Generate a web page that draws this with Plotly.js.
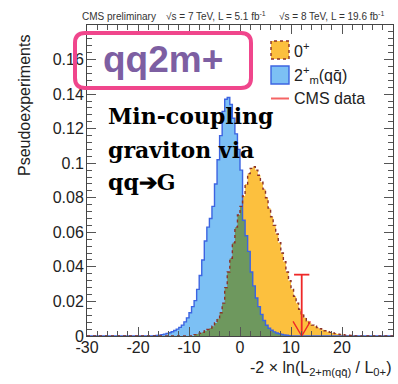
<!DOCTYPE html>
<html><head><meta charset="utf-8">
<script src="https://cdn.plot.ly/plotly-3.0.1.min.js"></script>
<style>html,body{margin:0;padding:0;background:#fff;}#c{width:398px;height:384px;}</style>
</head><body><div id="c"></div>
<script>
// ---- data ----
const binWidth = 0.5;
const axisMin = -30, axisMax = 30;
// 2+m(qq) pseudo-experiments, first bin starts at -17
const blueStart = -17;
const blueVals = [0.0002,0.0003,0.0005,0.0008,0.0011,0.0015,0.0019,0.0025,0.0032,0.0040,
  0.0050,0.0063,0.0082,0.0105,0.0135,0.017,0.0205,0.027,0.035,0.044,
  0.055,0.063,0.068,0.075,0.088,0.102,0.116,0.130,0.137,0.138,
  0.134,0.126,0.117,0.108,0.096,0.067,0.058,0.049,0.037,0.029,
  0.022,0.017,0.0125,0.009,0.0062,0.0045,0.0033,0.0024,0.0017,0.0013,
  0.0009,0.0006,0.0004,0.0002];
// 0+ pseudo-experiments, first bin starts at -9
const orangeStart = -9;
const orangeVals = [0.0008,0.0012,0.0016,0.0022,0.003,0.0038,0.0046,0.0056,0.0075,0.0100,
  0.0135,0.019,0.028,0.037,0.045,0.054,0.063,0.070,0.075,0.081,
  0.088,0.094,0.097,0.098,0.096,0.093,0.089,0.085,0.080,0.074,
  0.069,0.064,0.059,0.054,0.048,0.043,0.037,0.032,0.027,0.023,
  0.019,0.0155,0.0128,0.0106,0.0088,0.0074,0.0063,0.0056,0.0049,0.0042,
  0.0036,0.0030,0.0025,0.0021,0.0017,0.0014,0.0011,0.0009,0.0007,0.0005,
  0.0004,0.0003,0.0002];
// observed CMS data
const obsValue = 12.1;
const obsTop = 0.0355;
const xTicks = [-30,-20,-10,0,10,20,30];
const yTicks = [0,0.02,0.04,0.06,0.08,0.1,0.12,0.14,0.16];

// ---- build full histograms ----
const nBins = Math.round((axisMax-axisMin)/binWidth);
const edges = [];
for (let i=0;i<=nBins;i++) edges.push(axisMin + i*binWidth);
function fullHist(start, vals){
  const h = new Array(nBins).fill(0);
  const off = Math.round((start-axisMin)/binWidth);
  vals.forEach((v,i)=>{ h[off+i]=v; });
  return h;
}
const blue = fullHist(blueStart, blueVals);
const orange = fullHist(orangeStart, orangeVals);
const green = blue.map((v,i)=>Math.min(v, orange[i]));
const stepY = h => h.concat([h[h.length-1]]);

const cOrange = 'rgb(252,192,62)', cBlue = 'rgb(124,192,244)', cGreen = 'rgb(110,152,94)';
const cBlueLine = 'rgb(60,100,225)', cOrangeLine = 'rgb(140,50,40)', cRed = 'rgb(238,40,40)';

function fillTrace(h, color){
  return {x: edges, y: stepY(h), type:'scatter', mode:'lines', line:{shape:'hv', width:0, color:color},
    fill:'tozeroy', fillcolor: color, hoverinfo:'skip', showlegend:false};
}
function lineTrace(h, color, dash){
  return {x: edges, y: stepY(h), type:'scatter', mode:'lines', line:{shape:'hv', width:1.4, color:color, dash:dash},
    hoverinfo:'skip', showlegend:false};
}
const capHalf = 1.5, headHalf = 1.7, headH = 0.0085;
const traces = [
  fillTrace(orange, cOrange),
  fillTrace(blue, cBlue),
  fillTrace(green, cGreen),
  lineTrace(blue, cBlueLine, 'solid'),
  lineTrace(orange, cOrangeLine, 'dot'),
  {x:[obsValue, obsValue], y:[0, obsTop], type:'scatter', mode:'lines', line:{color:cRed, width:1.8}, showlegend:false},
  {x:[obsValue-capHalf, obsValue+capHalf], y:[obsTop, obsTop], type:'scatter', mode:'lines', line:{color:cRed, width:1.8}, showlegend:false},
  {x:[obsValue-headHalf, obsValue, obsValue+headHalf], y:[headH, 0, headH], type:'scatter', mode:'lines', line:{color:cRed, width:1.4}, showlegend:false}
];

// pixel -> paper helpers (plot area: x 87..393, y 25..336)
const L=87, R=5, T=25, B=48, W=398, H=384;
const pw = W-L-R, ph = H-T-B;
const px = p => (p-L)/pw;
const py = p => (H-B-p)/ph;

function roundRect(x0,y0,x1,y1,r){
  const rx=r/pw, ry=r/ph;
  const X0=px(x0), X1=px(x1), Y0=py(y1), Y1=py(y0);
  return `M${X0+rx},${Y0} L${X1-rx},${Y0} Q${X1},${Y0} ${X1},${Y0+ry} L${X1},${Y1-ry} Q${X1},${Y1} ${X1-rx},${Y1} L${X0+rx},${Y1} Q${X0},${Y1} ${X0},${Y1-ry} L${X0},${Y0+ry} Q${X0},${Y0} ${X0+rx},${Y0} Z`;
}

const sans = 'Liberation Sans, Arial, sans-serif';
const serif = 'DejaVu Serif, serif';
const annotations = [
  {text:'CMS preliminary', x:px(80), y:py(16), xref:'paper', yref:'paper', xanchor:'left', yanchor:'middle', showarrow:false, font:{family:sans, size:10, color:'#333'}},
  {text:'√s = 7 TeV, L = 5.1 fb<sup>-1</sup>', x:px(164), y:py(16), xref:'paper', yref:'paper', xanchor:'left', yanchor:'middle', showarrow:false, font:{family:sans, size:10, color:'#333'}},
  {text:'√s = 8 TeV, L = 19.6 fb<sup>-1</sup>', x:px(277), y:py(16), xref:'paper', yref:'paper', xanchor:'left', yanchor:'middle', showarrow:false, font:{family:sans, size:10, color:'#333'}},
  {text:'qq2m+', x:px(163), y:py(60), xref:'paper', yref:'paper', xanchor:'center', yanchor:'middle', showarrow:false, font:{family:sans, size:37, color:'rgb(125,95,162)', weight:'bold'}},
  {text:'<b>Min-coupling</b>', x:px(106), y:py(116), xref:'paper', yref:'paper', xanchor:'left', yanchor:'middle', showarrow:false, font:{family:serif, size:22, color:'#000'}},
  {text:'<b>graviton via</b>', x:px(106), y:py(150), xref:'paper', yref:'paper', xanchor:'left', yanchor:'middle', showarrow:false, font:{family:serif, size:22, color:'#000'}},
  {text:'<b>qq➔G</b>', x:px(106), y:py(182), xref:'paper', yref:'paper', xanchor:'left', yanchor:'middle', showarrow:false, font:{family:serif, size:22, color:'#000'}},
  {text:'0<sup>+</sup>', x:px(292), y:py(50), xref:'paper', yref:'paper', xanchor:'left', yanchor:'middle', showarrow:false, font:{family:sans, size:16, color:'#222'}},
  {text:'2<sup>+</sup><sub>m</sub>(qq̄)', x:px(292), y:py(75), xref:'paper', yref:'paper', xanchor:'left', yanchor:'middle', showarrow:false, font:{family:sans, size:16, color:'#222'}},
  {text:'CMS data', x:px(292), y:py(99), xref:'paper', yref:'paper', xanchor:'left', yanchor:'middle', showarrow:false, font:{family:sans, size:16, color:'#222'}},
  {text:'Pseudoexperiments', x:px(25), y:py(106), xref:'paper', yref:'paper', xanchor:'center', yanchor:'middle', textangle:-90, showarrow:false, font:{family:sans, size:16, color:'#222'}},
  {text:'-2 × ln(L<sub>2+m(qq̄)</sub> / L<sub>0+</sub>)', x:1.0, y:py(368), xref:'paper', yref:'paper', xanchor:'right', yanchor:'middle', showarrow:false, font:{family:sans, size:16, color:'#222'}}
];

const shapes = [
  {type:'path', path: roundRect(75,33,251,88,10), xref:'paper', yref:'paper', line:{color:'rgb(240,70,140)', width:4}, fillcolor:'rgba(0,0,0,0)'},
  {type:'rect', xref:'paper', yref:'paper', x0:px(271), x1:px(289), y0:py(59), y1:py(41), fillcolor:cOrange, line:{color:cOrangeLine, width:1.4, dash:'dot'}},
  {type:'rect', xref:'paper', yref:'paper', x0:px(271), x1:px(289), y0:py(84), y1:py(66), fillcolor:cBlue, line:{color:cBlueLine, width:1.4}},
  {type:'line', xref:'paper', yref:'paper', x0:px(271), x1:px(289), y0:py(98.5), y1:py(98.5), line:{color:'rgb(245,100,100)', width:2}}
];

const axisCommon = {showgrid:false, zeroline:false, showline:true, linecolor:'#444', linewidth:1, ticks:'inside', mirror:'allticks', tickcolor:'#555', tickwidth:1, ticklen:9, tickfont:{family:sans, size:16, color:'#222'}};
const layout = {
  width:W, height:H, margin:{l:L, r:R, t:T, b:B}, paper_bgcolor:'#fff', plot_bgcolor:'#fff', showlegend:false,
  xaxis: Object.assign({}, axisCommon, {range:[axisMin, axisMax], tickvals:xTicks, ticktext:xTicks.map(String), ticklabelstandoff:-3, minor:{dtick:2, ticklen:5, ticks:'inside', tickcolor:'#555'}}),
  yaxis: Object.assign({}, axisCommon, {range:[0,0.18], tickvals:yTicks, ticktext:yTicks.map(String), ticklabelstandoff:-1, minor:{dtick:0.004, ticklen:5, ticks:'inside', tickcolor:'#555'}}),
  annotations: annotations, shapes: shapes
};
Plotly.newPlot('c', traces, layout, {staticPlot:true, displayModeBar:false});
</script></body></html>
